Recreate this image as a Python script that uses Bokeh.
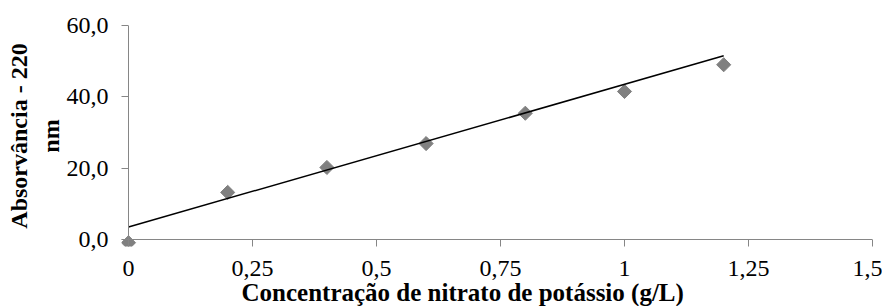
import numpy as np
from bokeh.plotting import figure
from bokeh.models import Span, Title, FixedTicker, Range1d
from bokeh.embed import file_html
from bokeh.resources import INLINE

# ---- data ----
conc = [0.0, 0.2, 0.4, 0.6, 0.8, 1.0, 1.2]
absorb = [-0.9, 13.2, 20.2, 26.9, 35.4, 41.5, 49.0]
trend_slope = 40.0
trend_intercept = 3.5
x_ticks = [0, 0.25, 0.5, 0.75, 1, 1.25, 1.5]
x_tick_labels = ["0", "0,25", "0,5", "0,75", "1", "1,25", "1,5"]
y_ticks = [0, 20, 40, 60]
y_tick_labels = ["0,0", "20,0", "40,0", "60,0"]
x_title = "Concentração de nitrato de potássio (g/L)"
y_title = "Absorvância - 220\nnm"

# ---- layout ----
PAD = 7
FW, FH = 751, 221
x_end, y_end = x_ticks[-1], y_ticks[-1]
x_start = -PAD * x_end / (FW - PAD)
y_start = -PAD * y_end / (FH - PAD)
FONT = "Liberation Serif"
AXC = "#868686"

p = figure(frame_width=FW, frame_height=FH,
           x_range=Range1d(x_start, x_end), y_range=Range1d(y_start, y_end),
           output_backend="svg", toolbar_location=None,
           min_border_left=121, min_border_top=25, min_border_right=10, min_border_bottom=60)
p.outline_line_color = None
p.grid.visible = False
p.background_fill_color = "white"
p.border_fill_color = "white"

for ax, ticks, labels in ((p.xaxis, x_ticks, x_tick_labels), (p.yaxis, y_ticks, y_tick_labels)):
    ax.ticker = FixedTicker(ticks=ticks)
    ax.major_label_overrides = {t: l for t, l in zip(ticks, labels)}
    ax.axis_line_color = None
    ax.major_tick_in = PAD
    ax.major_tick_out = 0
    ax.major_tick_line_color = AXC
    ax.minor_tick_line_color = None
    ax.major_label_text_font = FONT
    ax.major_label_text_font_size = "24px"
    ax.major_label_text_color = "black"

p.xaxis.major_label_standoff = 14
p.yaxis.major_label_standoff = 13

p.yaxis.axis_label = y_title
p.yaxis.axis_label_text_font = FONT
p.yaxis.axis_label_text_font_size = "24px"
p.yaxis.axis_label_text_font_style = "bold"
p.yaxis.axis_label_text_color = "black"
p.yaxis.axis_label_standoff = 0

p.add_layout(Span(location=0, dimension="height", line_color=AXC, line_width=1))
p.add_layout(Span(location=0, dimension="width", line_color=AXC, line_width=1))

p.scatter(conc, absorb, marker="square", angle=np.pi / 4, size=10,
          fill_color="#808080", line_color="#808080")

tx = np.array([conc[0], conc[-1]])
p.line(tx, trend_intercept + trend_slope * tx, line_color="black", line_width=1.5)

# x-axis title as a below-panel Title
p.add_layout(Title(text=x_title, align="left", offset=120, vertical_align="bottom",
                   standoff=-4, text_font=FONT, text_font_size="25px",
                   text_font_style="bold", text_color="black"),
             "below")

open("out.html", "w").write(file_html(p, INLINE))
